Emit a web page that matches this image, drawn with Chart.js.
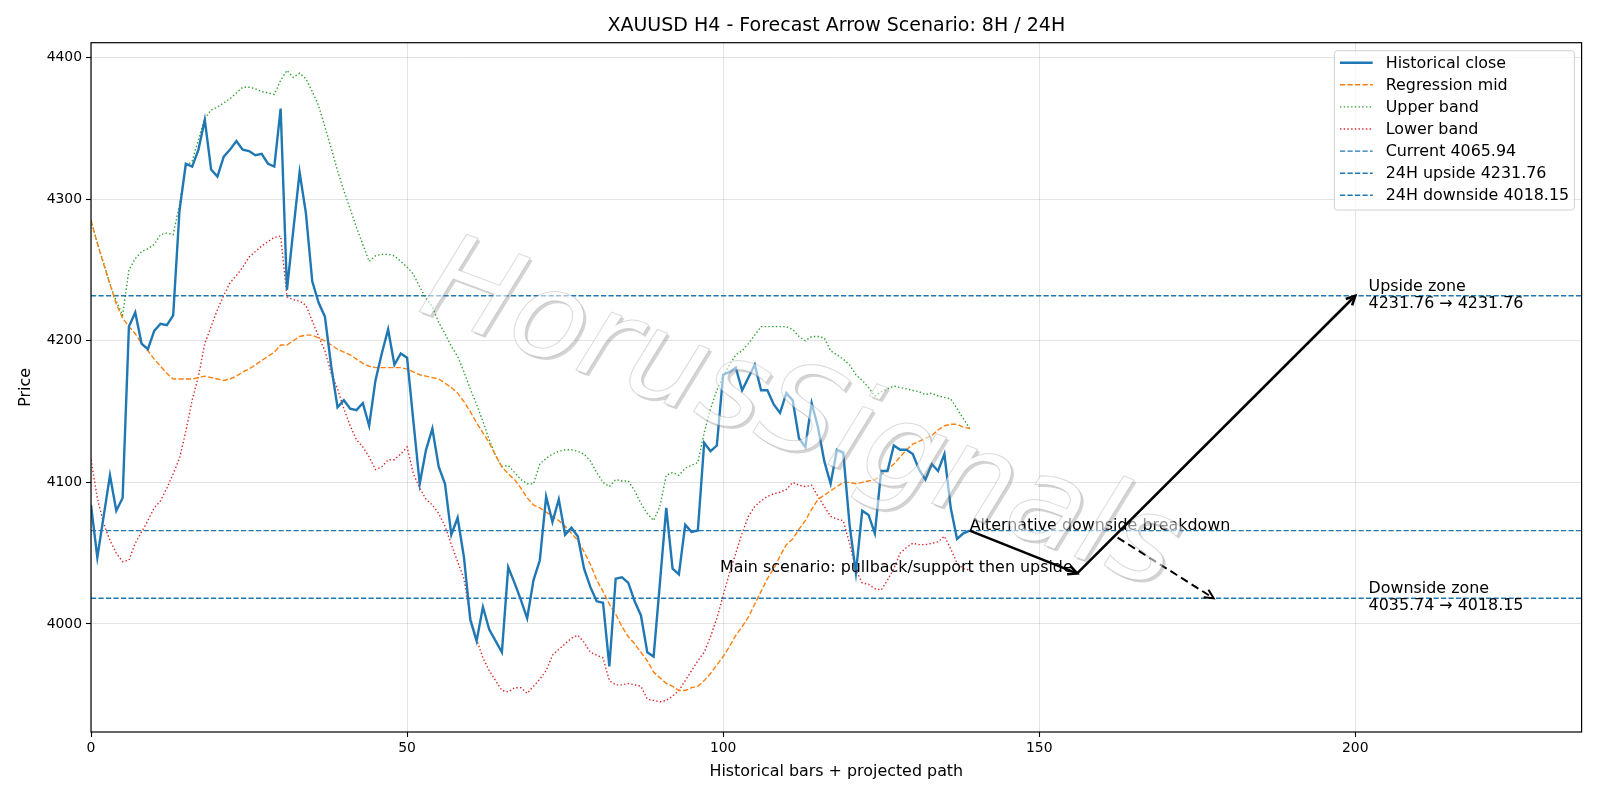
<!DOCTYPE html>
<html>
<head>
<meta charset="utf-8">
<title>XAUUSD H4 - Forecast Arrow Scenario</title>
<script src="https://cdn.jsdelivr.net/npm/chart.js@4.4.1/dist/chart.umd.min.js"></script>
<style>
  html, body { margin: 0; padding: 0; background: #fff; }
  #wrap { width: 1600px; height: 800px; }
</style>
</head>
<body>
<div id="wrap"><canvas id="chart" width="1600" height="800"></canvas></div>
<script>
// ========================
// Data
// ========================
const closeValues = [
  4084, 4047, 4076, 4105, 4080, 4089, 4210, 4220, 4198, 4194,
  4207, 4212, 4211, 4218, 4292, 4325, 4323, 4335, 4356, 4321,
  4316, 4330, 4335, 4341, 4335, 4334, 4331, 4332, 4325, 4323,
  4364, 4236, 4278, 4319, 4290, 4242, 4227, 4217, 4182, 4153,
  4158, 4152, 4151, 4156, 4140, 4172, 4191, 4208, 4183, 4191,
  4188, 4143, 4099, 4123, 4138, 4111, 4099, 4063, 4075, 4047,
  4003, 3988, 4012, 3996, 3988, 3980, 4040, 4029, 4017, 4004,
  4031, 4045, 4090, 4072, 4088, 4063, 4068, 4062, 4039, 4026,
  4016, 4015, 3970, 4032, 4033, 4029, 4016, 4006, 3980, 3977,
  4029, 4082, 4039, 4035, 4070, 4065, 4066, 4128, 4122, 4126,
  4176, 4178, 4181, 4165, 4174, 4183, 4165, 4165, 4155, 4149,
  4163, 4158, 4131, 4125, 4156, 4139, 4115, 4099, 4123, 4121,
  4070, 4036, 4080, 4077, 4064, 4108, 4108, 4126, 4123, 4123,
  4120, 4109, 4102, 4113, 4108, 4120, 4082, 4060, 4064, 4065.94
];

const regressionMid = [
  4285, 4269, 4254, 4240, 4226, 4216, 4210, 4205, 4198, 4193,
  4187, 4182, 4177, 4173, 4173, 4173, 4173, 4174, 4175, 4174,
  4173, 4172, 4173, 4175, 4178, 4180, 4183, 4186, 4189, 4192,
  4197, 4197, 4200, 4203, 4204, 4204, 4202, 4200, 4197, 4194,
  4192, 4190, 4187, 4184, 4182, 4181, 4181, 4181, 4181, 4181,
  4180, 4178, 4176, 4175, 4174, 4173, 4170, 4167, 4163, 4157,
  4150, 4142, 4135, 4128, 4119, 4111, 4106, 4102, 4096, 4089,
  4084, 4082, 4079, 4076, 4073, 4069, 4064, 4059, 4051, 4042,
  4031, 4023, 4014, 4007, 3998, 3991, 3986, 3980, 3974, 3966,
  3962, 3958, 3956, 3953, 3953, 3955, 3956, 3960, 3965, 3971,
  3977, 3984, 3992, 3998, 4005, 4014, 4023, 4032, 4039, 4048,
  4056, 4060, 4067, 4073, 4081, 4088, 4091, 4094, 4097, 4100,
  4100, 4099, 4100, 4101, 4102, 4105, 4109, 4113, 4118, 4123,
  4127, 4129, 4131, 4133, 4137, 4140, 4141, 4141, 4139, 4138
];

const upperBand = [
  4285, 4269, 4255, 4240, 4228, 4218, 4250, 4258, 4263, 4265,
  4268, 4275, 4276, 4275, 4296, 4323, 4327, 4342, 4357, 4363,
  4365, 4368, 4371, 4375, 4379, 4379, 4378, 4376, 4375, 4374,
  4384, 4391, 4386, 4389, 4385, 4376, 4366, 4351, 4336, 4320,
  4306, 4293, 4280, 4268, 4256, 4260, 4261, 4261, 4260, 4256,
  4252, 4247, 4238, 4230, 4224, 4213, 4205, 4196, 4189, 4178,
  4166, 4155, 4143, 4130, 4119, 4111, 4112, 4107, 4102, 4099,
  4099, 4113, 4117, 4120, 4122, 4123, 4123, 4122, 4120, 4115,
  4107, 4100, 4097, 4102, 4101, 4101, 4094, 4085, 4078, 4073,
  4083, 4105, 4107, 4105, 4110, 4112, 4114, 4135, 4152, 4165,
  4175, 4183, 4190, 4193, 4198, 4204, 4210, 4210, 4210, 4210,
  4210, 4208, 4203, 4200, 4203, 4203, 4202, 4193, 4190, 4187,
  4183, 4176, 4172, 4167, 4161, 4164, 4166, 4168, 4167, 4166,
  4165, 4164, 4162, 4163, 4161, 4160, 4159, 4152, 4145, 4138
];

const lowerBand = [
  4116, 4089, 4071, 4059, 4050, 4044, 4045, 4057, 4065, 4073,
  4082, 4087, 4096, 4106, 4117, 4136, 4158, 4175, 4198, 4210,
  4222, 4232, 4241, 4246, 4252, 4259, 4263, 4267, 4270, 4273,
  4274, 4231, 4229, 4228, 4225, 4214, 4203, 4193, 4177, 4166,
  4152, 4140, 4130, 4125, 4118, 4109, 4111, 4116, 4116, 4120,
  4125, 4106, 4096, 4088, 4084, 4078, 4069, 4056, 4044, 4032,
  4005, 3989, 3976, 3967, 3960, 3953, 3952, 3955, 3955, 3951,
  3956, 3961, 3967, 3978, 3982, 3986, 3990, 3992, 3987, 3980,
  3978, 3976, 3960, 3957, 3957, 3958, 3957, 3956, 3947, 3946,
  3945, 3946, 3949, 3953, 3960, 3967, 3974, 3980, 3991, 4004,
  4020, 4036, 4050, 4064, 4076, 4083, 4087, 4090, 4092, 4093,
  4095, 4100, 4098, 4097, 4098, 4090, 4083, 4076, 4074, 4073,
  4057, 4038, 4029, 4028, 4025, 4024, 4031, 4039, 4050, 4054,
  4057, 4056, 4056, 4057, 4058, 4062, 4053, 4043, 4039, 4038
];

const levelCurrent = 4065.94;
const levelUpside = 4231.76;
const levelDownside = 4018.15;

const xTicks = [0, 50, 100, 150, 200];
const yTicks = [4000, 4100, 4200, 4300, 4400];
const X_MIN = 0, X_MAX = 235.8;
const Y_MIN = 3923.7, Y_MAX = 4410.5;

// projected paths: [bar, price]
const mainPath = [[139, 4065.94], [156, 4035.74], [200, 4231.76]];
const altPath = [[162.4, 4061], [177.6, 4018.15]];

// text notes: bar, price, align, lines
const notes = [
  { x: 139, y: 4069.6, align: 'left', lines: ['Alternative downside breakdown'] },
  { x: 155.3, y: 4039.3, align: 'right', lines: ['Main scenario: pullback/support then upside'] },
  { x: 202.1, y: 4232.2, align: 'left', lines: ['Upside zone', '4231.76 \u2192 4231.76'] },
  { x: 202.1, y: 4018.9, align: 'left', lines: ['Downside zone', '4035.74 \u2192 4018.15'] }
];

const FONT = '"DejaVu Sans", "Liberation Sans", sans-serif';
const TEXT_PX = 15.9;
const TICK_PX = 13.9;

function toPoints(arr) {
  return arr.map((v, i) => ({ x: i, y: v }));
}
function hLine(v) {
  return [{ x: X_MIN, y: v }, { x: X_MAX, y: v }];
}

// ========================
// Plugins
// ========================
function drawArrow(ctx, x1, y1, x2, y2, width, dash) {
  const ang = Math.atan2(y2 - y1, x2 - x1);
  const hl = 9, hw = 4.5;
  ctx.save();
  ctx.strokeStyle = '#000';
  ctx.lineWidth = width;
  ctx.setLineDash(dash || []);
  ctx.beginPath();
  ctx.moveTo(x1, y1);
  ctx.lineTo(x2, y2);
  ctx.stroke();
  ctx.setLineDash([]);
  ctx.beginPath();
  ctx.moveTo(x2 - hl * Math.cos(ang) + hw * Math.sin(ang), y2 - hl * Math.sin(ang) - hw * Math.cos(ang));
  ctx.lineTo(x2, y2);
  ctx.lineTo(x2 - hl * Math.cos(ang) - hw * Math.sin(ang), y2 - hl * Math.sin(ang) + hw * Math.cos(ang));
  ctx.stroke();
  ctx.restore();
}

const scenarioPlugin = {
  id: 'scenario',
  afterDatasetsDraw(chart) {
    const { ctx, scales: { x, y } } = chart;
    const px = p => [x.getPixelForValue(p[0]), y.getPixelForValue(p[1])];

    for (let i = 0; i < mainPath.length - 1; i++) {
      const a = px(mainPath[i]), b = px(mainPath[i + 1]);
      drawArrow(ctx, a[0], a[1], b[0], b[1], 2.6);
    }
    const c = px(altPath[0]), d = px(altPath[1]);
    drawArrow(ctx, c[0], c[1], d[0], d[1], 2, [8, 4.5]);

    ctx.save();
    ctx.fillStyle = '#000';
    ctx.font = TEXT_PX + 'px ' + FONT;
    ctx.textBaseline = 'middle';
    notes.forEach(n => {
      ctx.textAlign = n.align;
      const lh = 17.3;
      const top = y.getPixelForValue(n.y) - (n.lines.length - 1) * lh / 2;
      n.lines.forEach((t, k) => ctx.fillText(t, x.getPixelForValue(n.x), top + k * lh));
    });
    ctx.restore();
  }
};

const framePlugin = {
  id: 'frame',
  afterDraw(chart) {
    const { ctx, chartArea: a } = chart;
    ctx.save();
    // axes box
    ctx.strokeStyle = '#000';
    ctx.lineWidth = 1.2;
    ctx.strokeRect(a.left, a.top, a.right - a.left, a.bottom - a.top);

    // title + axis labels
    ctx.fillStyle = '#000';
    ctx.textAlign = 'center';
    ctx.textBaseline = 'middle';
    ctx.font = '19px ' + FONT;
    ctx.fillText('XAUUSD H4 - Forecast Arrow Scenario: 8H / 24H', (a.left + a.right) / 2, 26);
    ctx.font = TEXT_PX + 'px ' + FONT;
    ctx.fillText('Historical bars + projected path', (a.left + a.right) / 2, 771.5);
    ctx.translate(25.5, (a.top + a.bottom) / 2);
    ctx.rotate(-Math.PI / 2);
    ctx.fillText('Price', 0, 0);
    ctx.restore();

    // legend
    ctx.save();
    const bx = 1334.3, by = 50.7, bw = 240, bh = 159.3, r = 3;
    ctx.beginPath();
    ctx.moveTo(bx + r, by);
    ctx.arcTo(bx + bw, by, bx + bw, by + bh, r);
    ctx.arcTo(bx + bw, by + bh, bx, by + bh, r);
    ctx.arcTo(bx, by + bh, bx, by, r);
    ctx.arcTo(bx, by, bx + bw, by, r);
    ctx.closePath();
    ctx.fillStyle = 'rgba(255,255,255,0.8)';
    ctx.fill();
    ctx.strokeStyle = '#d0d0d0';
    ctx.lineWidth = 1;
    ctx.stroke();
    ctx.font = TEXT_PX + 'px ' + FONT;
    ctx.textAlign = 'left';
    ctx.textBaseline = 'middle';
    chart.data.datasets.forEach((ds, i) => {
      const ry = 62.7 + i * 22.1;
      ctx.strokeStyle = ds.borderColor;
      ctx.lineWidth = ds.borderWidth;
      ctx.setLineDash(ds.borderDash || []);
      ctx.beginPath();
      ctx.moveTo(1340, ry);
      ctx.lineTo(1372.7, ry);
      ctx.stroke();
      ctx.setLineDash([]);
      ctx.fillStyle = '#000';
      ctx.fillText(ds.label, 1385.7, ry + 1);
    });
    ctx.restore();

    // watermark: translucent white letters, thin grey rim and a drop shadow
    const text = 'HorusSignals';
    const ang = 20.5 * Math.PI / 180;
    const cx = 800, cy = 420;
    const off = document.createElement('canvas');
    off.width = 1600; off.height = 800;
    const o = off.getContext('2d');
    o.font = 'italic 122px ' + FONT;
    o.textAlign = 'center';
    o.textBaseline = 'middle';
    const put = (dx, dy, style, stroke) => {
      o.save();
      o.translate(cx + dx, cy + dy);
      o.rotate(ang);
      if (stroke) {
        o.strokeStyle = style;
        o.lineWidth = 1;
        o.strokeText(text, 0, 0);
      } else {
        o.fillStyle = style;
        o.fillText(text, 0, 0);
      }
      o.restore();
    };
    put(2.5, 2.5, 'rgba(120,120,120,0.32)');
    o.globalCompositeOperation = 'destination-out';
    put(0, 0, '#000');
    o.globalCompositeOperation = 'source-over';
    put(0, 0, 'rgba(255,255,255,0.55)');
    put(0, 0, 'rgba(150,150,150,0.35)', true);
    ctx.drawImage(off, 0, 0);
  }
};

// ========================
// Chart
// ========================
const solid = { pointRadius: 0, tension: 0, fill: false };
const dash = [5.2, 2.3];
const dot = [1.4, 2.3];
const tickFont = { family: FONT, size: TICK_PX };

new Chart(document.getElementById('chart'), {
  type: 'line',
  data: {
    datasets: [
      { ...solid, label: 'Historical close', data: toPoints(closeValues), borderColor: '#1f77b4', borderWidth: 2.4 },
      { ...solid, label: 'Regression mid', data: toPoints(regressionMid), borderColor: '#ff7f0e', borderWidth: 1.4, borderDash: dash },
      { ...solid, label: 'Upper band', data: toPoints(upperBand), borderColor: '#2ca02c', borderWidth: 1.4, borderDash: dot },
      { ...solid, label: 'Lower band', data: toPoints(lowerBand), borderColor: '#d62728', borderWidth: 1.4, borderDash: dot },
      { ...solid, label: 'Current ' + levelCurrent.toFixed(2), data: hLine(levelCurrent), borderColor: '#1f77b4', borderWidth: 1.4, borderDash: dash },
      { ...solid, label: '24H upside ' + levelUpside.toFixed(2), data: hLine(levelUpside), borderColor: '#1f77b4', borderWidth: 1.4, borderDash: dash },
      { ...solid, label: '24H downside ' + levelDownside.toFixed(2), data: hLine(levelDownside), borderColor: '#1f77b4', borderWidth: 1.4, borderDash: dash }
    ]
  },
  options: {
    responsive: false,
    devicePixelRatio: 1,
    animation: false,
    layout: { padding: { top: 42.7, right: 18.4, left: 0, bottom: 0 } },
    plugins: {
      legend: { display: false },
      title: { display: false },
      tooltip: { enabled: false }
    },
    scales: {
      x: {
        type: 'linear',
        min: X_MIN,
        max: X_MAX,
        afterBuildTicks: s => { s.ticks = xTicks.map(v => ({ value: v })); },
        afterFit: s => { s.height = 68; },
        ticks: { color: '#000', font: tickFont, padding: 3, maxRotation: 0, autoSkip: false, callback: v => String(v) },
        grid: { color: 'rgba(176,176,176,0.35)', lineWidth: 1, tickColor: '#000', tickLength: 5, tickWidth: 1.1 },
        border: { display: false }
      },
      y: {
        type: 'linear',
        min: Y_MIN,
        max: Y_MAX,
        afterBuildTicks: s => { s.ticks = yTicks.map(v => ({ value: v })); },
        afterFit: s => { s.width = 91; },
        ticks: { color: '#000', font: tickFont, padding: 4, autoSkip: false, callback: v => String(v) },
        grid: { color: 'rgba(176,176,176,0.35)', lineWidth: 1, tickColor: '#000', tickLength: 5, tickWidth: 1.1 },
        border: { display: false }
      }
    }
  },
  plugins: [scenarioPlugin, framePlugin]
});
</script>
</body>
</html>
